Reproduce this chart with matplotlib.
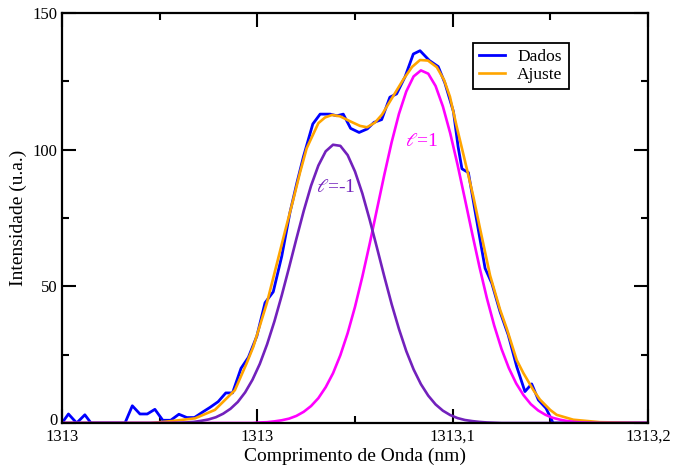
import numpy as np
import matplotlib
matplotlib.use("Agg")
import matplotlib.pyplot as plt
import matplotlib.transforms as mtransforms
from matplotlib.ticker import FixedLocator, FixedFormatter

plt.rcParams['font.family'] = ['Liberation Serif', 'DejaVu Serif']
plt.rcParams['mathtext.fontset'] = 'stix'

x_dados = [1313.0000, 1313.0022, 1313.0050, 1313.0078, 1313.0099, 1313.0215, 1313.0240,
           1313.0266, 1313.0291, 1313.0317, 1313.0344, 1313.0371, 1313.0399, 1313.0426,
           1313.0452, 1313.0480, 1313.0505, 1313.0533, 1313.0559, 1313.0582, 1313.0611,
           1313.0636, 1313.0665, 1313.0693, 1313.0721, 1313.0750, 1313.0778, 1313.0802,
           1313.0824, 1313.0856, 1313.0881, 1313.0915, 1313.0938, 1313.0960, 1313.0985,
           1313.1014, 1313.1042, 1313.1065, 1313.1091, 1313.1119, 1313.1142, 1313.1171,
           1313.1199, 1313.1222, 1313.1254, 1313.1284, 1313.1307, 1313.1336, 1313.1352,
           1313.1365, 1313.1387, 1313.1416, 1313.1444, 1313.1467, 1313.1495, 1313.1523,
           1313.1552, 1313.1580, 1313.1603, 1313.1626, 1313.1652, 1313.1676, 1313.2000]
y_dados = [0, 3.3, 0, 3, 0, 0, 6.3,
           3.3, 3.3, 5, 1, 1, 3.2, 2,
           2, 4, 5.7, 7.8, 11, 11, 20,
           24, 31.8, 44, 48, 61, 77, 88,
           97.4, 109.4, 113, 113, 112.4, 113, 107.8,
           106.3, 107.6, 110, 111, 119.2, 120.4, 126.7,
           135, 136.2, 132.6, 130.4, 124.3, 113.9, 101,
           93, 91.6, 73.7, 56.6, 51.1, 40.7, 32.2,
           20.6, 11.5, 14.3, 8.4, 5.4, 0, 0]

# ajuste total
x_ajuste = [1313.0000, 1313.0300, 1313.0374, 1313.0454, 1313.0522, 1313.0539, 1313.0590,
            1313.0630, 1313.0653, 1313.0699, 1313.0735, 1313.0762, 1313.0789, 1313.0812,
            1313.0835, 1313.0875, 1313.0898, 1313.0922, 1313.0949, 1313.0983, 1313.1017,
            1313.1041, 1313.1068, 1313.1092, 1313.1119, 1313.1165, 1313.1195, 1313.1222,
            1313.1249, 1313.1279, 1313.1304, 1313.1324, 1313.1347, 1313.1375, 1313.1404,
            1313.1427, 1313.1461, 1313.1495, 1313.1518, 1313.1552, 1313.1575, 1313.1609,
            1313.1631, 1313.1666, 1313.1688, 1313.1745, 1313.1836, 1313.2000]
y_ajuste = [0, 0, 0.7, 1.7, 4.8, 6.6, 12,
            21.8, 27.9, 43.8, 59, 70.5, 81.6, 91.5,
            100.5, 109.7, 111.8, 112.7, 112.2, 110.4, 108.7,
            108.2, 109.9, 112.8, 117.6, 125.7, 130.3, 132.8,
            132.6, 130.2, 125.5, 119.4, 108.5, 96, 82.8,
            71, 54, 41.5, 34.5, 23, 18.2, 12,
            8.6, 4.8, 3, 1.2, 0.3, 0]

# componentes l=-1 e l=1 (amostradas a cada 0.0025 nm)
x_comp = np.linspace(1313.0, 1313.2, 81)
y_lm1 = [0.0] * 16 + [0.1, 0.2, 0.4, 0.8, 1.3, 2.1, 3.4, 5.2, 7.7, 11.2, 15.8, 21.6, 28.8,
                      37.2, 46.7, 56.9, 67.4, 77.6, 86.8, 94.2, 99.4, 101.8, 101.4, 98.0,
                      92.0, 84.0, 74.4, 64.1, 53.6, 43.5, 34.4, 26.3, 19.6, 14.2, 10.0,
                      6.8, 4.5, 2.9, 1.8, 1.1, 0.7, 0.4, 0.2, 0.1] + [0.0] * 21
y_l1 = [0.0] * 27 + [0.2, 0.3, 0.6, 1.0, 1.6, 2.6, 4.1, 6.2, 9.1, 13.1, 18.2, 24.8, 32.9,
                     42.5, 53.5, 65.5, 78.2, 90.8, 102.7, 113.1, 121.3, 126.8, 129.0, 127.8,
                     123.3, 115.8, 106.0, 94.5, 82.0, 69.3, 57.0, 45.7, 35.7, 27.1, 20.1,
                     14.5, 10.2, 6.9, 4.6, 3.0, 1.9, 1.2, 0.7, 0.4, 0.2, 0.1] + [0.0] * 8

xticks = [1313.0, 1313.0667, 1313.1333, 1313.2]
xticklabels = ['1313', '1313', '1313,1', '1313,2']
xminor = [1313.0333, 1313.1, 1313.1667]
yticks = [0, 50, 100, 150]
yminor = [25, 75, 125]

fig = plt.figure(figsize=(6.73, 4.66), dpi=100)
ax = fig.add_axes([62/673, 43/466, 586/673, 410/466])

ax.plot(x_dados, y_dados, color='#0000ff', lw=2.0, label='Dados')
ax.plot(x_ajuste, y_ajuste, color='#ffa500', lw=1.9, label='Ajuste')
ax.plot(x_comp, y_l1, color='#ff00ff', lw=1.9)
ax.plot(x_comp, y_lm1, color='#7221bc', lw=1.9)

ax.text(1313.0934, 86, r'$\ell$=-1', color='#7221bc', fontsize=14, ha='center', va='center')
ax.text(1313.1228, 103, r'$\ell$=1', color='#ff00ff', fontsize=14, ha='center', va='center')

ax.set_xlim(1313.0, 1313.2)
ax.set_ylim(0, 150)
ax.xaxis.set_major_locator(FixedLocator(xticks))
ax.xaxis.set_major_formatter(FixedFormatter(xticklabels))
ax.xaxis.set_minor_locator(FixedLocator(xminor))
ax.yaxis.set_major_locator(FixedLocator(yticks))
ax.yaxis.set_minor_locator(FixedLocator(yminor))
ax.tick_params(which='both', direction='in', top=True, right=True, width=1.5,
               labelsize=12, colors='black')
ax.tick_params(which='major', length=10)
ax.tick_params(which='minor', length=5)
ax.tick_params(axis='x', pad=4)
ax.tick_params(axis='y', pad=3)
for s in ax.spines.values():
    s.set_linewidth(1.6)

# o "0" do eixo y fica um pouco acima, como no original
lbl0 = ax.get_yticklabels()[0]
lbl0.set_transform(lbl0.get_transform() + mtransforms.ScaledTranslation(0, 3/72, fig.dpi_scale_trans))

ax.set_xlabel('Comprimento de Onda (nm)', fontsize=14, labelpad=2)
ax.set_ylabel('Intensidade (u.a.)', fontsize=14, labelpad=4)

leg = ax.legend(loc='upper left', bbox_to_anchor=(0.701, 0.927), fontsize=12.5,
                handlelength=1.5, handletextpad=0.7, borderaxespad=0, borderpad=0.35,
                labelspacing=0.1, fancybox=False, framealpha=1, edgecolor='black')
leg.get_frame().set_linewidth(1.3)

fig.savefig('out.png', dpi=100)
